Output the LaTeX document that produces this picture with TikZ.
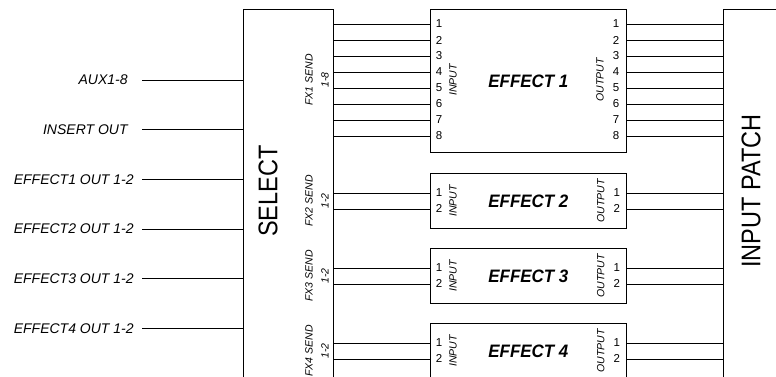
\documentclass[tikz,border=0pt]{standalone}
\usepackage{fontspec}
\setmainfont{Liberation Sans}
\newfontfamily\condfont[FakeStretch=0.87]{Liberation Sans}
\newfontfamily\namefont[FakeStretch=0.94]{Liberation Sans}
\usetikzlibrary{positioning}

\begin{document}
\begin{tikzpicture}[x=1pt,y=-1pt,line width=0.8pt]
  \tikzset{unitbox/.style={draw,anchor=north west,inner sep=0pt},
    fxbox/.style={unitbox,minimum width=196,minimum height=55},
    pin/.style={font=\fontsize{11.5}{11.5}\selectfont,inner sep=0pt},
    portlabel/.style={font=\fontsize{10.5}{10.5}\selectfont\itshape,rotate=90,inner sep=0pt},
    sendlabel/.style={font=\fontsize{10.5}{16}\selectfont\itshape,rotate=90,align=center,inner sep=0pt},
    srclabel/.style={font=\fontsize{14}{14}\selectfont\itshape,anchor=east,inner sep=0pt},
    bigname/.style={font=\condfont\fontsize{27}{27}\selectfont,rotate=90,inner sep=0pt},
    fxname/.style={font=\namefont\fontsize{18}{18}\selectfont\bfseries\itshape,inner sep=0pt}}
  \useasboundingbox (0,0) rectangle (776,376);

  % select, patch and the four effect units
  \node[unitbox,minimum width=90,minimum height=400] (select) at (243,9) {};
  \node[unitbox,minimum width=120,minimum height=400] (patch) at (723,9) {};
  \node[unitbox,minimum width=196,minimum height=143] (fx1) at (430,9) {};
  \node[fxbox] (fx2) at (430,173) {};
  \node[fxbox] (fx3) at (430,248) {};
  \node[fxbox] (fx4) at (430,323) {};
  \node[bigname] (selname) at (268,191) {SELECT};
  \node[bigname] (patchname) at (751,191) {INPUT PATCH};

  % sources into select
  \coordinate (src1) at (142,80);
  \coordinate (src2) at (142,129.7);
  \coordinate (src3) at (142,179.4);
  \coordinate (src4) at (142,229.1);
  \coordinate (src5) at (142,278.8);
  \coordinate (src6) at (142,328.5);
  \node[srclabel] (aux) at (128,80) {AUX1-8};
  \node[srclabel] (insert) at (128,129.7) {INSERT OUT};
  \node[srclabel] (fx1ret) at (134,179.4) {EFFECT1 OUT 1-2};
  \node[srclabel] (fx2ret) at (134,229.1) {EFFECT2 OUT 1-2};
  \node[srclabel] (fx3ret) at (134,278.8) {EFFECT3 OUT 1-2};
  \node[srclabel] (fx4ret) at (134,328.5) {EFFECT4 OUT 1-2};
  \foreach \k in {1,...,6} \draw (src\k) -- (src\k -| select.west);

  % effect 1, eight channels
  \coordinate (sendx) at (317,0);
  \node[fxname] (fx1name) at (fx1.center) {EFFECT 1};
  \node[portlabel] (fx1inlbl) at (453,80) {INPUT};
  \node[portlabel] (fx1outlbl) at (600,80) {OUTPUT};
  \node[sendlabel] (fx1send) at (317,80) {FX1 SEND\\1-8};
  \foreach \i in {1,...,8} {
    \node[pin] (fx1in\i) at (439,8+16*\i) {\i};
    \node[pin] (fx1out\i) at (616,8+16*\i) {\i};
    \draw (select.east |- fx1in\i) -- (fx1.west |- fx1in\i);
    \draw (fx1.east |- fx1out\i) -- (patch.west |- fx1out\i);
  }

  % effects 2 to 4, two channels
  \foreach \n in {2,3,4} {
    \node[fxname] (fx\n name) at (fx\n.center) {EFFECT \n};
    \node[portlabel] (fx\n inlbl) at ([xshift=23]fx\n.west) {INPUT};
    \node[portlabel] (fx\n outlbl) at ([xshift=-26]fx\n.east) {OUTPUT};
    \node[sendlabel] (fx\n send) at (sendx |- fx\n.center) {FX\n\ SEND\\1-2};
    \foreach \i in {1,2} {
      \node[pin] (fx\n in\i) at ([xshift=9,yshift=24-16*\i]fx\n.west) {\i};
      \node[pin] (fx\n out\i) at ([xshift=-10,yshift=24-16*\i]fx\n.east) {\i};
      \draw (select.east |- fx\n in\i) -- (fx\n.west |- fx\n in\i);
      \draw (fx\n.east |- fx\n out\i) -- (patch.west |- fx\n out\i);
    }
  }
\end{tikzpicture}
\end{document}
